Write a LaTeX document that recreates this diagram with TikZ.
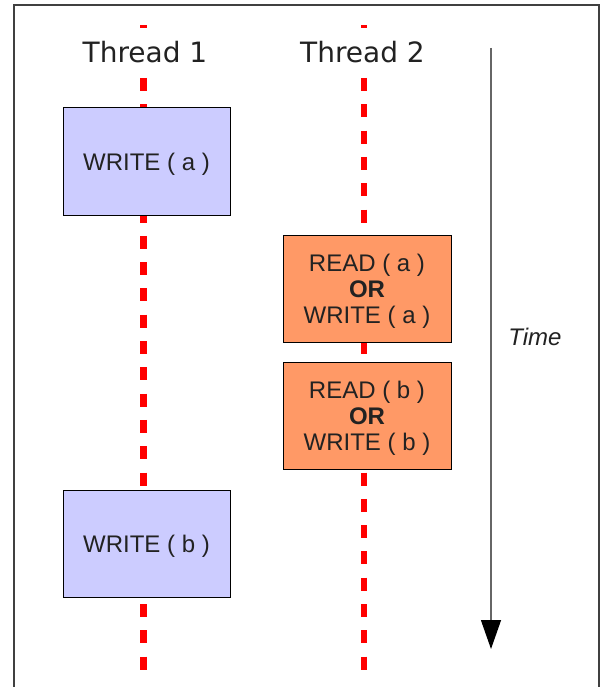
\documentclass[tikz,border=0pt]{standalone}
\usepackage{fontspec}
\setmainfont{Liberation Sans}
\newfontfamily\threadfont{DejaVu Sans}
\usetikzlibrary{arrows.meta}
\definecolor{writeblue}{RGB}{204, 204, 255}
\definecolor{accessorange}{RGB}{255, 153, 102}
\definecolor{threadred}{RGB}{255, 0, 0}
\definecolor{textgray}{RGB}{34, 34, 34}

\begin{document}
\begin{tikzpicture}[
    x=1pt, y=-1pt,
    box/.style={rectangle, minimum width=167pt, minimum height=107pt, text centered, align=center, text depth=0pt, draw=black, line width=1pt, text=textgray, font=\fontsize{24}{26}\selectfont},
    writebox/.style={box, fill=writeblue},
    accessbox/.style={box, fill=accessorange, minimum width=168pt},
    threadline/.style={threadred, line width=6.5pt, dash pattern=on 13pt off 13.3pt},
    threadlabel/.style={fill=white, minimum height=49pt, inner xsep=2pt, text=textgray, font=\threadfont\fontsize{28}{30}\selectfont},
    timearrow/.style={-{Triangle[width=20pt, length=29pt, color=black]}, draw=black!60, line width=1.3pt}
]

% Background
\useasboundingbox (0,0) rectangle (601,687);
\fill[white] (0,0) rectangle (601,687);
\draw[black!75, line width=1.4pt] (14,690) -- (14,5) -- (599,5) -- (599,690);

% Thread lines
\coordinate (t1top) at (143.7,25.4);
\coordinate (t1bot) at (143.7,670);
\coordinate (t2top) at (364,25.4);
\coordinate (t2bot) at (364,670);
\draw[threadline] (t1top) -- (t1bot);
\draw[threadline] (t2top) -- (t2bot);

% Thread labels
\node[threadlabel] (label1) at (145,52.5) {Thread 1};
\node[threadlabel] (label2) at (362.5,52.5) {Thread 2};

% Thread 1
\node[writebox] (writea) at (146.5,161.5) {WRITE ( a )};
\node[writebox] (writeb) at (146.5,543.5) {WRITE ( b )};

% Thread 2
\node[accessbox] (accessa) at (367,288.5) {READ ( a )\\ \textbf{OR}\\ WRITE ( a )};
\node[accessbox] (accessb) at (367,415.5) {READ ( b )\\ \textbf{OR}\\ WRITE ( b )};

% Time axis
\coordinate (timestart) at (491,48);
\coordinate (timeend) at (491,649);
\draw[timearrow] (timestart) -- (timeend);
\node[text=textgray, font=\itshape\fontsize{24}{26}\selectfont] (time) at (535,337) {Time};

\end{tikzpicture}
\end{document}
